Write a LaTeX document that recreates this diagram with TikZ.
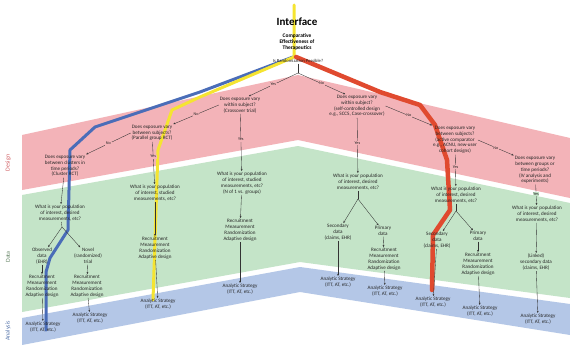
\documentclass[tikz,border=0pt]{standalone}
\usepackage{fontspec}
\setmainfont{Carlito}
\usetikzlibrary{arrows.meta}
\definecolor{pinkband}{HTML}{F3B3B8}
\definecolor{greenband}{HTML}{C4E4C8}
\definecolor{blueband}{HTML}{B4C7E7}
\definecolor{pathblue}{HTML}{4A6DB8}
\definecolor{pathyellow}{HTML}{F5E431}
\definecolor{pathred}{HTML}{E04A2F}
\definecolor{designlbl}{HTML}{D05A5F}
\definecolor{datalbl}{HTML}{5E7F5E}
\definecolor{analysislbl}{HTML}{5070A8}
\begin{document}
\begin{tikzpicture}[x=1pt,y=-1pt,
  q/.style={align=center, font=\fontsize{5.1}{5.8}\selectfont, inner sep=0.8pt, text=black!85},
  arr/.style={-{Stealth[length=2.2pt,width=1.8pt]}, line width=0.35pt, black!80},
  plain/.style={line width=0.35pt, black!80},
  yn/.style={font=\fontsize{4.2}{4.5}\selectfont, inner sep=0.6pt, fill=#1, text=black!85},
  yn/.default=pinkband,
  route/.style={line width=#1, line join=round, line cap=round},
  bandlbl/.style={rotate=90, font=\fontsize{6}{7}\selectfont}]
\useasboundingbox (0,0) rectangle (570,345);
\fill[white] (0,0) rectangle (570,345);
% bands
\fill[pinkband] (22,135) -- (298,75) -- (570,138) -- (570,198) -- (298,140) -- (22,190) -- cycle;
\fill[greenband] (22,195) -- (298,146) -- (570,203) -- (570,298) -- (300,262) -- (22,312) -- cycle;
\fill[blueband] (22,318) -- (300,267) -- (570,304) -- (570,335) -- (300,292) -- (22,345) -- cycle;
% band labels
\node[bandlbl, text=designlbl] (lblDesign) at (8,163) {Design};
\node[bandlbl, text=datalbl] (lblData) at (8,257) {Data};
\node[bandlbl, text=analysislbl] (lblAnalysis) at (8,331) {Analysis};
% highlighted routes
\draw[route=3pt, pathblue] (293,57) -- (200,92) -- (95,127) -- (70,150) -- (68,230) -- (50,258) -- (46,272) -- (46,330);
\draw[route=3pt, pathyellow] (294,5) -- (294,57) -- (200,97) -- (172,110) -- (158,150) -- (153,300);
\draw[route=4.5pt, pathred] (296,57) -- (380,92) -- (420,105) -- (435,125) -- (447,160) -- (450,210) -- (433,235) -- (432,290);
% title
\node[font=\fontsize{11}{12}\selectfont\bfseries] (title) at (297,22) {Interface};
\node[align=center, font=\fontsize{5.4}{6.3}\selectfont\bfseries] (sub) at (297,42) {Comparative\\Effectiveness of\\Therapeutics};
\node[q, font=\fontsize{4.6}{5}\selectfont] (randq) at (298,61) {Is Randomization Possible?};
\coordinate (split) at (298,73);
% design questions
\node[q] (L1) at (240,105) {Does exposure vary\\within subject?\\(Crossover trial)};
\node[q] (L2) at (152,133) {Does exposure vary\\between subjects?\\(Parallel group RCT)};
\node[q] (L3) at (65,166) {Does exposure vary\\between clusters in\\time periods?\\(Cluster RCT)};
\node[q] (R1) at (357,106) {Does exposure vary\\within subject?\\(self-controlled design\\e.g., SCCS, Case-crossover)};
\node[q] (R2) at (455,140) {Does exposure vary\\between subjects?\\(active comparator\\e.g., ACNU, new-user\\cohort designs)};
\node[q] (R3) at (535,170) {Does exposure vary\\between groups or\\time periods?\\(IV analysis and\\experiments)};
% data questions
\node[q] (D1) at (60,213) {What is your population\\of interest, desired\\measurements, etc?};
\node[q] (D2) at (155,193) {What is your population\\of interest, studied\\measurements, etc?};
\node[q] (D3) at (242,183) {What is your population\\of interest, studied\\measurements, etc?\\(N of 1 vs. groups)};
\node[q] (D4) at (358,182) {What is your population\\of interest, desired\\measurements, etc?};
\node[q] (D5) at (456,195) {What is your population\\of interest, desired\\measurements, etc?};
\node[q] (D6) at (537,214) {What is your population\\of interest, desired\\measurements, etc?};
% data sources
\node[q] (obs) at (42,256) {Observed\\data\\(EHR)};
\node[q] (novel) at (88,256) {Novel\\(randomized)\\trial};
\node[q] (sec4) at (338,232) {Secondary\\data\\(claims, EHR)};
\node[q] (prim4) at (383,231) {Primary\\data};
\node[q] (sec5) at (437,240) {Secondary\\data\\(claims, EHR)};
\node[q] (prim5) at (478,236) {Primary\\data};
\node[q] (lnk6) at (536,262) {(Linked)\\secondary data\\(claims, EHR)};
% recruitment
\node[q] (rec1a) at (42,286) {Recruitment\\Measurement\\Randomization\\Adaptive design};
\node[q] (rec1b) at (87,286) {Recruitment\\Measurement\\Randomization\\Adaptive design};
\node[q] (rec2) at (155,248) {Recruitment\\Measurement\\Randomization\\Adaptive design};
\node[q] (rec3) at (240,230) {Recruitment\\Measurement\\Randomization\\Adaptive design};
\node[q] (rec4) at (384,259) {Recruitment\\Measurement\\Randomization\\Adaptive design};
\node[q] (rec5) at (478,264) {Recruitment\\Measurement\\Randomization\\Adaptive design};
% analytic
\node[q] (a1a) at (43,327) {Analytic Strategy\\(ITT, AT, etc.)};
\node[q] (a1b) at (90,318) {Analytic Strategy\\(ITT, AT, etc.)};
\node[q] (a2) at (158,304) {Analytic Strategy\\(ITT, AT, etc.)};
\node[q] (a3) at (240,289) {Analytic Strategy\\(ITT, AT, etc.)};
\node[q] (a4a) at (338,282) {Analytic Strategy\\(ITT, AT, etc.)};
\node[q] (a4b) at (385,291) {Analytic Strategy\\(ITT, AT, etc.)};
\node[q] (a5a) at (433,302) {Analytic Strategy\\(ITT, AT, etc.)};
\node[q] (a5b) at (480,311) {Analytic Strategy\\(ITT, AT, etc.)};
\node[q] (a6) at (538,319) {Analytic Strategy\\(ITT, AT, etc.)};
% connectors: design
\draw[plain] (randq) -- (split);
\draw[arr] (split) -- node[yn]{Yes} (L1.45);
\draw[arr] (split) -- node[yn]{No} (R1.135);
\draw[arr] (L1.west) -- node[yn]{No} (L2.north east);
\draw[arr] (L1) -- node[yn, pos=0.45]{Yes} (D3);
\draw[arr] (L2.west) -- node[yn]{No} (L3.north east);
\draw[arr] (L2) -- node[yn, pos=0.35]{Yes} (D2);
\draw[arr] (L3) -- (D1);
\draw[arr] (R1.east) -- node[yn]{No} (R2.north west);
\draw[arr] (R1) -- node[yn, pos=0.45]{Yes} (D4);
\draw[arr] (R2.east) -- node[yn]{No} (R3.north west);
\draw[arr] (R2) -- node[yn, pos=0.4]{Yes} (D5);
\draw[arr] (R3) -- node[yn=greenband, pos=0.45]{Yes} (D6);
% connectors: data
\coordinate (d1s) at (62,227);
\draw[plain] (D1) -- (d1s);
\draw[arr] (d1s) -- (obs);
\draw[arr] (d1s) -- (novel);
\coordinate (d4s) at (358,199);
\draw[plain] (D4) -- (d4s);
\draw[arr] (d4s) -- (sec4);
\draw[arr] (d4s) -- (prim4);
\coordinate (d5s) at (456,211);
\draw[plain] (D5) -- (d5s);
\draw[arr] (d5s) -- (sec5);
\draw[arr] (d5s) -- (prim5);
\draw[arr] (obs) -- (rec1a);
\draw[arr] (novel) -- (rec1b);
\draw[arr] (D2) -- (rec2);
\draw[arr] (D3) -- (rec3);
\draw[arr] (prim4) -- (rec4);
\draw[arr] (prim5) -- (rec5);
\draw[arr] (D6) -- (lnk6);
% connectors: analysis
\draw[arr] (rec1a) -- (a1a);
\draw[arr] (rec1b) -- (a1b);
\draw[arr] (rec2) -- (a2);
\draw[arr] (rec3) -- (a3);
\draw[arr] (sec4) -- (a4a);
\draw[arr] (rec4) -- (a4b);
\draw[arr] (sec5) -- (a5a);
\draw[arr] (rec5) -- (a5b);
\draw[arr] (lnk6) -- (a6);
\end{tikzpicture}
\end{document}
